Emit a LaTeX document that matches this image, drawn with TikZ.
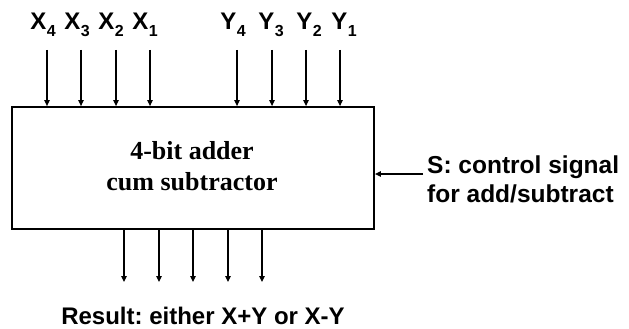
\documentclass[tikz,border=0pt]{standalone}
\usepackage{fontspec}
\setmainfont{Liberation Serif}
\setsansfont{Liberation Sans}
\usetikzlibrary{arrows.meta}
\frenchspacing
\tikzset{
  arr/.style={line width=1.2pt,-{Triangle[length=6pt,width=5.5pt]}},
  blk/.style={draw,line width=1.8pt,inner sep=0pt},
  lbl/.style={font=\fontsize{24}{29}\selectfont\sffamily\bfseries\frenchspacing,inner sep=0pt},
  sig/.style={font=\fontsize{24.5}{29}\selectfont\sffamily\bfseries\frenchspacing,inner sep=0pt},
  serif/.style={font=\fontsize{26}{31}\selectfont\rmfamily\bfseries,inner sep=0pt,align=center}
}
\newcommand{\sbs}[1]{\kern0.5pt\raisebox{-6.5pt}{\fontsize{16}{16}\selectfont #1}}
\begin{document}
\begin{tikzpicture}[x=1pt,y=-1pt]
\useasboundingbox (0,0) rectangle (629,329);
\node[blk,minimum width=362pt,minimum height=122pt] (box) at (193,168) {};
\node[serif] (title) at (192,166) {4-bit adder\\cum subtractor};
% input labels
\node[lbl,anchor=base] (lx4) at (43,30) {X\sbs{4}};
\node[lbl,anchor=base] (lx3) at (77,30) {X\sbs{3}};
\node[lbl,anchor=base] (lx2) at (111,30) {X\sbs{2}};
\node[lbl,anchor=base] (lx1) at (145,30) {X\sbs{1}};
\node[lbl,anchor=base] (ly4) at (233,30) {Y\sbs{4}};
\node[lbl,anchor=base] (ly3) at (271,30) {Y\sbs{3}};
\node[lbl,anchor=base] (ly2) at (309,30) {Y\sbs{2}};
\node[lbl,anchor=base] (ly1) at (344,30) {Y\sbs{1}};
% input arrows
\foreach \n/\x in {x4/47,x3/81,x2/116,x1/150,y4/237,y3/272,y2/306,y1/340}{
  \coordinate (i\n) at (\x,50);
  \draw[arr] (i\n) -- (i\n |- box.north);
}
% output arrows
\foreach \n/\x in {1/124,2/159,3/193,4/228,5/262}{
  \coordinate (o\n) at (\x,282);
  \draw[arr] (o\n |- box.south) -- (o\n);
}
% control signal
\coordinate (sin) at (423,174);
\draw[arr] (sin) -- (sin -| box.east);
\node[sig,anchor=west,align=left] (sigtext) at (427,179.5) {S: control signal\\for add/subtract};
% result
\node[lbl,anchor=base] (res) at (203,324) {Result: either X+Y or X-Y};
\end{tikzpicture}
\end{document}
